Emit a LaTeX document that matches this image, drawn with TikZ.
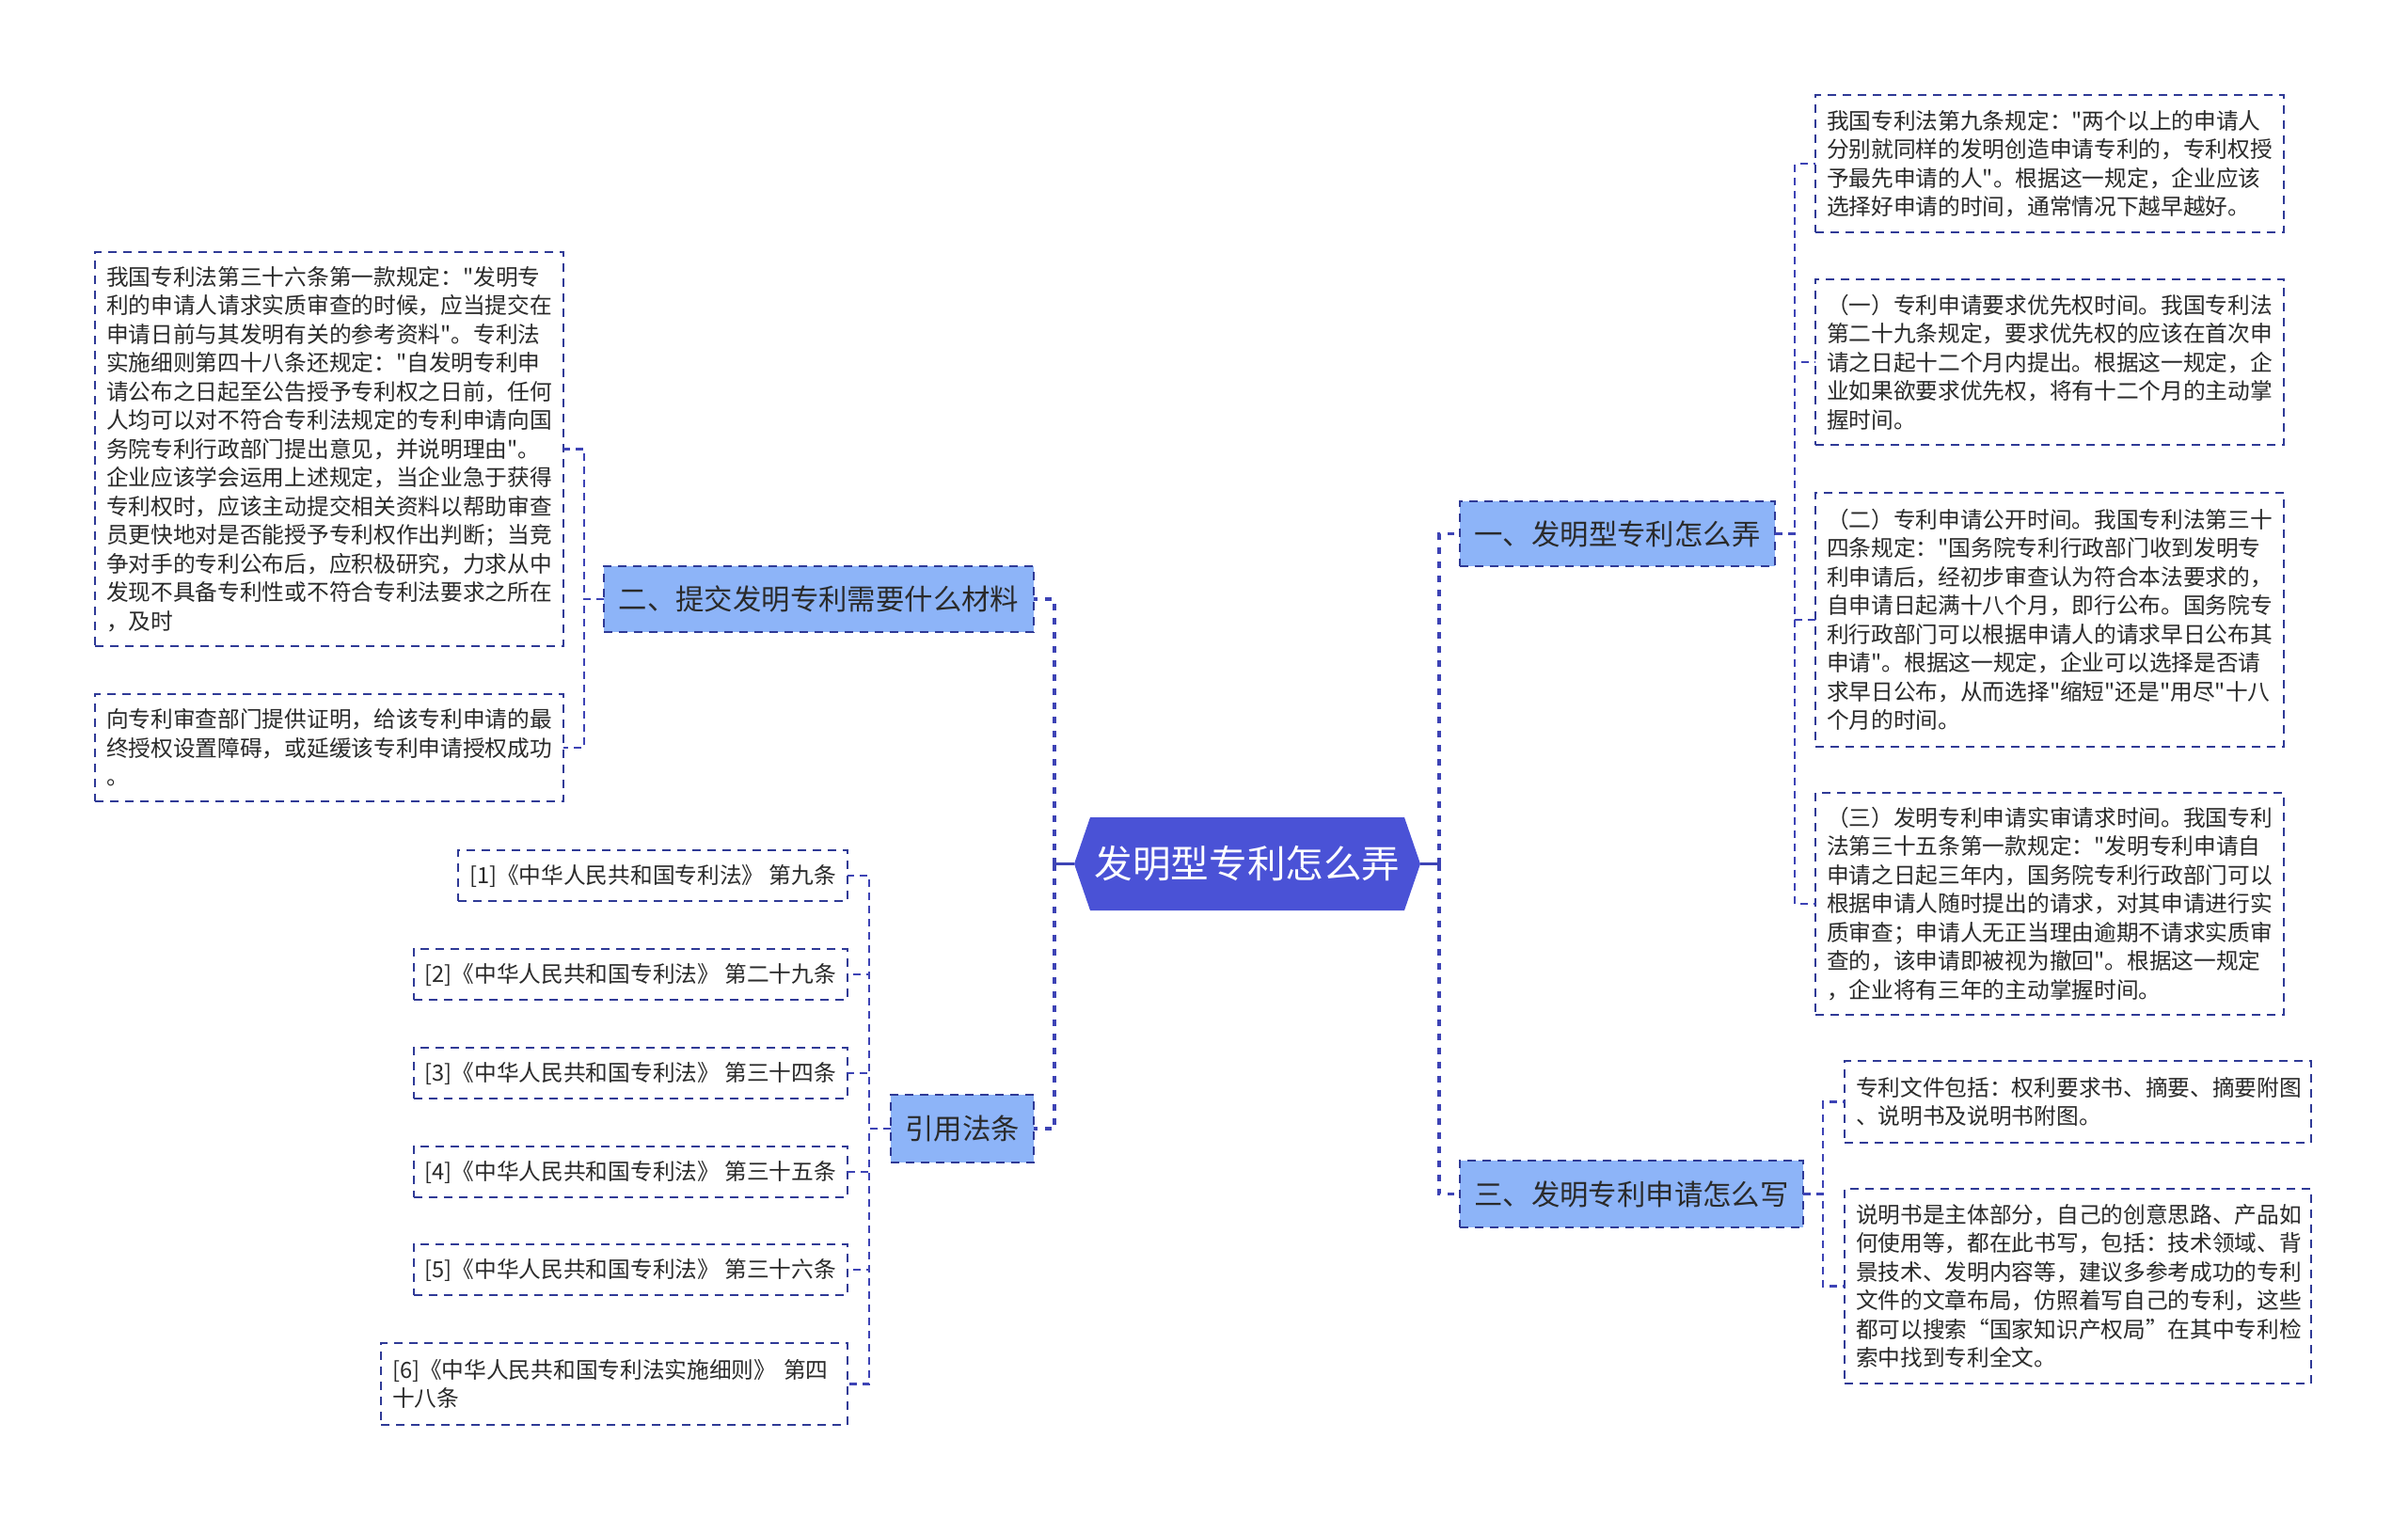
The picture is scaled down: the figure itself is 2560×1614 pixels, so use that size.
\documentclass[tikz,border=0pt]{standalone}
\usepackage{fontspec}
\setmainfont{Noto Sans CJK SC}[Ligatures=TeXOff]
\usetikzlibrary{backgrounds}
\definecolor{rootfill}{HTML}{4A52D6}
\definecolor{branchfill}{HTML}{8DB4F8}
\definecolor{bordercol}{HTML}{2F3A96}
\definecolor{linecol}{HTML}{3D43B5}
\definecolor{txt}{HTML}{2A2A2A}
\tikzset{
  x=1pt, y=-1pt,
  leaf/.style={draw=bordercol, line width=2pt, dash pattern=on 9pt off 7pt,
    anchor=north west, text width=474pt, inner xsep=12pt, inner ysep=0pt,
    outer sep=0pt, align=left, font=\fontsize{23.7}{30.5}\selectfont, text=txt},
  refbox/.style={draw=bordercol, line width=2pt, dash pattern=on 9pt off 7pt,
    anchor=east, inner xsep=12pt, inner ysep=0pt, minimum height=54pt,
    outer sep=0pt, font=\fontsize{23.7}{30.5}\selectfont, text=txt},
  branch/.style={draw=bordercol, fill=branchfill, line width=2pt,
    dash pattern=on 9pt off 7pt, inner sep=0pt, outer sep=0pt,
    font=\fontsize{30.4}{36}\selectfont, text=txt},
  rootnode/.style={inner sep=0pt, outer sep=0pt, minimum width=368pt,
    minimum height=99pt, font=\fontsize{40.6}{48}\selectfont, text=white},
  rootlink/.style={draw=linecol, line width=3.5pt},
  mainlink/.style={draw=linecol, line width=3.3pt, dash pattern=on 7pt off 8pt},
  sublink/.style={draw=linecol, line width=2.2pt, dash pattern=on 8pt off 6pt},
}
\begin{document}
\begin{tikzpicture}
\begin{scope}[on background layer]
\fill[white] (0,0) rectangle (2560,1614);
\end{scope}
\useasboundingbox (0,0) rectangle (2560,1614);

% root
\node[rootnode] (root) at (1326,918.5) {发明型专利怎么弄};
\begin{scope}[on background layer]
\fill[rootfill] (root.west) -- ([xshift=17pt]root.north west) -- ([xshift=-17pt]root.north east)
  -- (root.east) -- ([xshift=-17pt]root.south east) -- ([xshift=17pt]root.south west) -- cycle;
\end{scope}

% branches
\node[branch, minimum width=335pt, minimum height=69pt] (n1) at (1719.5,567.5) {一、发明型专利怎么弄};
\node[branch, minimum width=365pt, minimum height=71pt] (n3) at (1734.5,1269.5) {三、发明专利申请怎么写};
\node[branch, minimum width=457pt, minimum height=70pt] (n2) at (870.5,637) {二、提交发明专利需要什么材料};
\node[branch, minimum width=152pt, minimum height=72pt] (nref) at (1023,1200) {引用法条};

% left leaves
\node[leaf, minimum height=419pt] (A) at (101,268) {我国专利法第三十六条第一款规定："发明专\\
利的申请人请求实质审查的时候，应当提交在\\
申请日前与其发明有关的参考资料"。专利法\\
实施细则第四十八条还规定："自发明专利申\\
请公布之日起至公告授予专利权之日前，任何\\
人均可以对不符合专利法规定的专利申请向国\\
务院专利行政部门提出意见，并说明理由"。\\
企业应该学会运用上述规定，当企业急于获得\\
专利权时，应该主动提交相关资料以帮助审查\\
员更快地对是否能授予专利权作出判断；当竞\\
争对手的专利公布后，应积极研究，力求从中\\
发现不具备专利性或不符合专利法要求之所在\\
，及时};
\node[leaf, minimum height=114pt] (B) at (101,738) {向专利审查部门提供证明，给该专利申请的最\\
终授权设置障碍，或延缓该专利申请授权成功\\
。};

% right leaves
\node[leaf, minimum height=146pt] (R1) at (1930,101) {我国专利法第九条规定："两个以上的申请人\\
分别就同样的发明创造申请专利的，专利权授\\
予最先申请的人"。根据这一规定，企业应该\\
选择好申请的时间，通常情况下越早越好。};
\node[leaf, minimum height=176pt] (R2) at (1930,297) {（一）专利申请要求优先权时间。我国专利法\\
第二十九条规定，要求优先权的应该在首次申\\
请之日起十二个月内提出。根据这一规定，企\\
业如果欲要求优先权，将有十二个月的主动掌\\
握时间。};
\node[leaf, minimum height=270pt] (R3) at (1930,524) {（二）专利申请公开时间。我国专利法第三十\\
四条规定："国务院专利行政部门收到发明专\\
利申请后，经初步审查认为符合本法要求的，\\
自申请日起满十八个月，即行公布。国务院专\\
利行政部门可以根据申请人的请求早日公布其\\
申请"。根据这一规定，企业可以选择是否请\\
求早日公布，从而选择"缩短"还是"用尽"十八\\
个月的时间。};
\node[leaf, minimum height=236pt] (R4) at (1930,843) {（三）发明专利申请实审请求时间。我国专利\\
法第三十五条第一款规定："发明专利申请自\\
申请之日起三年内，国务院专利行政部门可以\\
根据申请人随时提出的请求，对其申请进行实\\
质审查；申请人无正当理由逾期不请求实质审\\
查的，该申请即被视为撤回"。根据这一规定\\
，企业将有三年的主动掌握时间。};
\node[leaf, text width=472pt, minimum height=87pt] (R5) at (1961,1128) {专利文件包括：权利要求书、摘要、摘要附图\\
、说明书及说明书附图。};
\node[leaf, text width=472pt, minimum height=207pt] (R6) at (1961,1264) {说明书是主体部分，自己的创意思路、产品如\\
何使用等，都在此书写，包括：技术领域、背\\
景技术、发明内容等，建议多参考成功的专利\\
文件的文章布局，仿照着写自己的专利，这些\\
都可以搜索“国家知识产权局”在其中专利检\\
索中找到专利全文。};

% references
\node[refbox] (r1) at (901,931) {[1]《中华人民共和国专利法》 第九条};
\node[refbox] (r2) at (901,1036) {[2]《中华人民共和国专利法》 第二十九条};
\node[refbox] (r3) at (901,1141) {[3]《中华人民共和国专利法》 第三十四条};
\node[refbox] (r4) at (901,1246) {[4]《中华人民共和国专利法》 第三十五条};
\node[refbox] (r5) at (901,1350) {[5]《中华人民共和国专利法》 第三十六条};
\node[refbox, text width=472pt, align=left, minimum height=87pt] (r6) at (901,1471.5) {[6]《中华人民共和国专利法实施细则》 第四\\十八条};

% root connectors
\coordinate (cL) at (1121,918.5);
\coordinate (cR) at (1530,918.5);
\draw[rootlink] (root.west) -- (cL);
\draw[rootlink] (root.east) -- (cR);
\draw[mainlink] (cL) |- (n2.east);
\draw[mainlink] (cL) |- (nref.east);
\draw[mainlink] (cR) |- (n1.west);
\draw[mainlink] (cR) |- (n3.west);

% sub connectors
\foreach \c in {A,B} \draw[sublink] (n2.west) -- ++(-21,0) |- (\c.east);
\foreach \c in {r1,r2,r3,r4,r5,r6} \draw[sublink] (nref.west) -- ++(-23,0) |- (\c.east);
\foreach \c in {R1,R2,R3,R4} \draw[sublink] (n1.east) -- ++(21,0) |- (\c.west);
\foreach \c in {R5,R6} \draw[sublink] (n3.east) -- ++(21,0) |- (\c.west);
\end{tikzpicture}
\end{document}
